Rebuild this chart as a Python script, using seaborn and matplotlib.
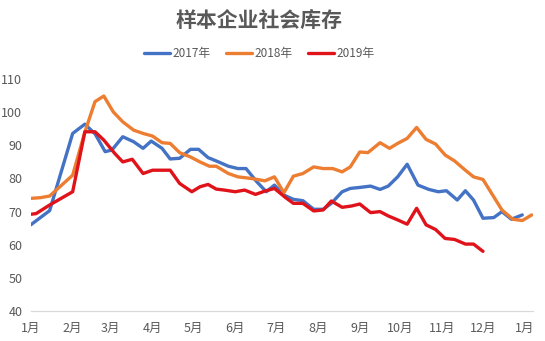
import matplotlib
matplotlib.use("Agg")
import matplotlib.pyplot as plt
import seaborn as sns
import pandas as pd
from matplotlib.ticker import FixedLocator, FixedFormatter
from matplotlib.lines import Line2D

# ---- data (x = days since Jan 1) ----
days_2017 = [0, 14, 31, 40, 47.5, 55, 60, 68, 76, 83, 89, 97, 103, 110, 118, 124, 131, 137, 146, 153,
             159, 167, 174, 180, 187, 194, 201, 209, 216, 222, 230, 236, 243, 251, 258, 264, 271, 278,
             286, 294, 301, 307, 315, 321, 327, 334, 342, 348, 355, 363]
vals_2017 = [66, 70.3, 93.6, 96.4, 93.5, 88.1, 88.6, 92.6, 91.1, 89.1, 91.3, 89.1, 85.9, 86.1, 88.8, 88.8,
             86.3, 85.3, 83.7, 83.0, 83.0, 79.0, 76.0, 78.0, 75.0, 73.7, 73.3, 70.7, 70.7, 72.5, 76.0,
             77.0, 77.3, 77.7, 76.7, 77.7, 80.5, 84.3, 78.0, 76.7, 76.0, 76.3, 73.5, 76.3, 73.5, 68.0,
             68.2, 70.0, 67.7, 69.0]

days_2018 = [0, 7, 14, 31, 40, 47.5, 54, 61, 68, 76, 83, 90, 97, 103, 110, 118, 125, 132, 137, 146, 153,
             163, 173, 180, 187, 194, 201, 209, 216, 223, 230, 236, 243, 249, 258, 265, 271, 278, 285,
             292, 299, 306, 313, 321, 327, 334, 348, 356, 363, 370]
vals_2018 = [74, 74.2, 74.7, 81, 94, 103.2, 104.9, 100.1, 97.1, 94.6, 93.6, 92.8, 90.8, 90.6, 87.8,
             86.5, 85, 83.7, 83.7, 81.5, 80.5, 80, 79.3, 80.5, 75.7, 80.7, 81.5, 83.5, 83, 83, 82, 83.5,
             88, 87.8, 90.8, 89.1, 90.6, 92.1, 95.4, 91.8, 90.4, 87.1, 85.3, 82.5, 80.5, 79.7, 70.5,
             67.7, 67.3, 69]

days_2019 = [0, 4, 14, 31, 40, 47.5, 54, 62, 68, 75, 83, 90, 97, 103, 110, 119, 125, 131, 137, 143, 151,
             158, 166, 173, 180, 188, 194, 201, 209, 216, 222, 230, 237, 243, 251, 258, 264, 271, 278,
             285, 292, 299, 306, 313, 321, 327, 334]
vals_2019 = [69.2, 69.4, 72, 76, 94.1, 94.1, 91.6, 87.6, 85, 85.8, 81.5, 82.5, 82.5, 82.5, 78.5, 76,
             77.5, 78.2, 76.8, 76.5, 76, 76.5, 75.2, 76.2, 77, 74.3, 72.5, 72.5, 70.2, 70.5, 73.2, 71.3,
             71.7, 72.3, 69.7, 70, 68.7, 67.5, 66.2, 71, 66, 64.6, 61.9, 61.6, 60.2, 60.2, 58]

series_names = ["2017年", "2018年", "2019年"]
colors = ["#4472C4", "#ED7D31", "#E0121A"]
month_ticks = [0, 31, 59, 90, 120, 151, 181, 212, 243, 273, 304, 334, 365]
month_labels = ["1月", "2月", "3月", "4月", "5月", "6月", "7月", "8月", "9月", "10月", "11月", "12月", "1月"]
y_ticks = [40, 50, 60, 70, 80, 90, 100, 110]
title = "样本企业社会库存"

df = pd.concat([
    pd.DataFrame({"day": days_2017, "value": vals_2017, "year": series_names[0]}),
    pd.DataFrame({"day": days_2018, "value": vals_2018, "year": series_names[1]}),
    pd.DataFrame({"day": days_2019, "value": vals_2019, "year": series_names[2]}),
], ignore_index=True)

sns.set_style("white")
plt.rcParams["font.family"] = ["Noto Sans CJK SC", "DejaVu Sans"]

fig = plt.figure(figsize=(5.45, 3.41), dpi=100)
ax = fig.add_axes([0.0563, 0.088, 0.9211, 0.680])

sns.lineplot(data=df, x="day", y="value", hue="year", palette=dict(zip(series_names, colors)),
             linewidth=2.4, ax=ax, sort=False, estimator=None, legend=False)

ax.set_xlim(0, 370.7)
ax.set_ylim(40, 110)
ax.set_xlabel("")
ax.set_ylabel("")
ax.xaxis.set_major_locator(FixedLocator(month_ticks))
ax.xaxis.set_major_formatter(FixedFormatter(month_labels))
ax.set_yticks(y_ticks)
ax.tick_params(axis="x", colors="#595959", labelsize=9, length=4, width=0.8, pad=4, direction="out")
ax.tick_params(axis="x", color="#D9D9D9")
ax.tick_params(axis="y", colors="#595959", labelsize=9, length=0, pad=6)
for s in ["top", "right", "left"]:
    ax.spines[s].set_visible(False)
ax.spines["bottom"].set_color("#D9D9D9")
ax.spines["bottom"].set_linewidth(0.9)

fig.text(0.476, 0.94, title, ha="center", va="center", fontsize=15, fontweight="bold",
         color="#595959", family=["Noto Sans CJK SC", "DejaVu Sans"])

handles = [Line2D([0], [0], color=c, lw=2.4) for c in colors]
leg = fig.legend(handles, series_names, loc="center", bbox_to_anchor=(0.476, 0.842), ncol=3,
                 frameon=False, fontsize=8.5, handlelength=2.2, handletextpad=0.2, columnspacing=1.3)
for t in leg.get_texts():
    t.set_color("#595959")

fig.savefig("out.png", dpi=100)
